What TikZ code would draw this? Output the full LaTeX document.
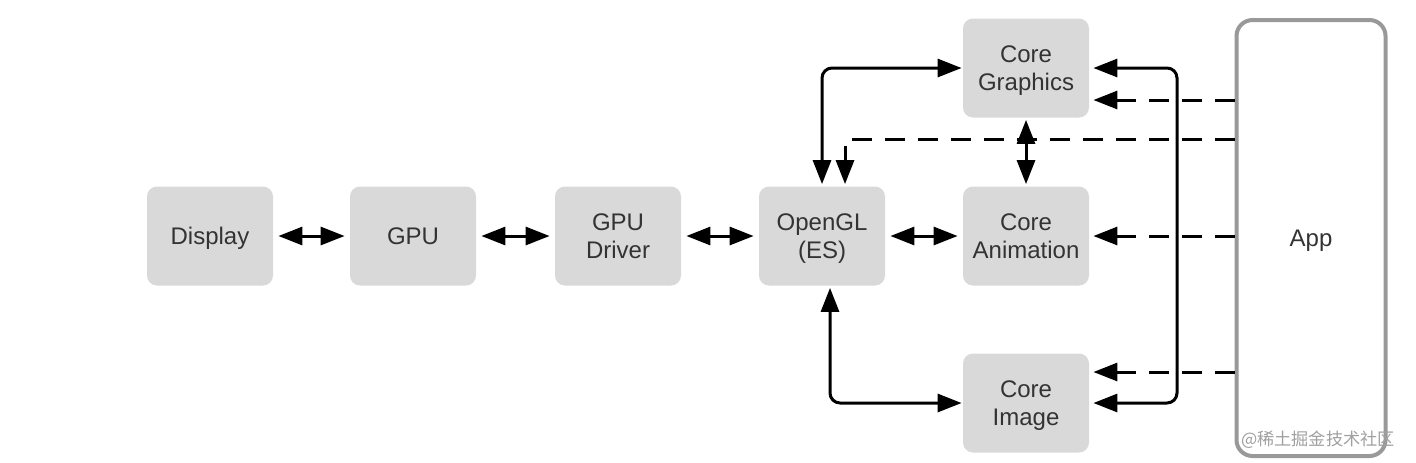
\documentclass[tikz,border=0pt]{standalone}
\usepackage{fontspec}
\setmainfont{Liberation Sans}
\newfontfamily\cjk{Noto Sans CJK SC}
\usepackage{xcolor}
\usetikzlibrary{arrows.meta,calc}
\definecolor{ink}{HTML}{000000}
\definecolor{txt}{HTML}{333333}
\definecolor{panel}{HTML}{D9D9D9}
\definecolor{frame}{HTML}{999999}
\definecolor{faint}{HTML}{A0A0A0}
\tikzset{
  font=\fontsize{12}{14}\selectfont,
  >={Triangle[length=12pt,width=9pt]},
  layer/.style={rounded corners=5pt,fill=panel,draw=none,minimum width=63pt,minimum height=49.5pt,align=center,text=txt,inner sep=2pt,text depth=-1.5pt},
  client/.style={rounded corners=8pt,draw=frame,line width=2pt,fill=white,minimum width=74.5pt,minimum height=218pt,text=txt,text depth=-1.5pt},
  link/.style={<->,line width=1.5pt,draw=ink},
  feed/.style={->,line width=1.5pt,draw=ink,dash pattern=on 10pt off 6.5pt},
  wmark/.style={font=\cjk\fontsize{8.6}{10}\selectfont,text=faint,inner sep=0pt}
}
\begin{document}
\begin{tikzpicture}[x=0.5pt,y=-0.5pt]
\useasboundingbox (0,0) rectangle (1416,462);

\node[layer] (disp) at (210,236) {Display};
\node[layer] (gpu) at (413,236) {GPU};
\node[layer] (drv) at (618,236) {GPU\\Driver};
\node[layer] (gl) at (822,236) {OpenGL\\(ES)};
\node[layer] (cg) at (1026,68) {Core\\Graphics};
\node[layer] (ca) at (1026,236) {Core\\Animation};
\node[layer] (ci) at (1026,403) {Core\\Image};
\node[client] (app) at (1311,238) {App};

% pipeline down to the screen
\draw[link,shorten <=2.5pt,shorten >=2.5pt] (disp) -- (gpu);
\draw[link,shorten <=2.5pt,shorten >=2.5pt] (gpu) -- (drv);
\draw[link,shorten <=2.5pt,shorten >=2.5pt] (drv) -- (gl);
\draw[link,shorten <=2.5pt,shorten >=2.5pt] (gl) -- (ca);
\draw[link,shorten <=1pt,shorten >=1pt] (cg) -- (ca);

% frameworks on top of OpenGL
\draw[link,rounded corners=5pt,shorten <=1pt,shorten >=0.5pt] (gl.north) |- (cg.west);
\draw[link,rounded corners=5pt,shorten <=1pt,shorten >=0.5pt] ($(gl.south)+(8,0)$) |- (ci.west);
\coordinate (rail) at (1177,236);
\draw[link,rounded corners=5pt,shorten <=2pt,shorten >=2pt] (cg.east) -| (rail) |- (ci.east);

% calls from the app
\coordinate (cgin) at ($(cg.east)+(0,32)$);
\coordinate (glin) at (1000,139);
\coordinate (ciin) at ($(ci.east)+(0,-31)$);
\draw[feed,shorten >=2pt] (app.west |- cgin) -- (cgin);
\draw[feed,shorten >=1pt] (app.west |- glin) -| ($(gl.north)+(23,0)$);
\draw[feed,shorten >=2pt] (app.west |- ca.east) -- (ca.east);
\draw[feed,shorten >=2pt] (app.west |- ciin) -- (ciin);

\node[wmark] (stamp) at (1318,440) {@稀土掘金技术社区};
\end{tikzpicture}
\end{document}
